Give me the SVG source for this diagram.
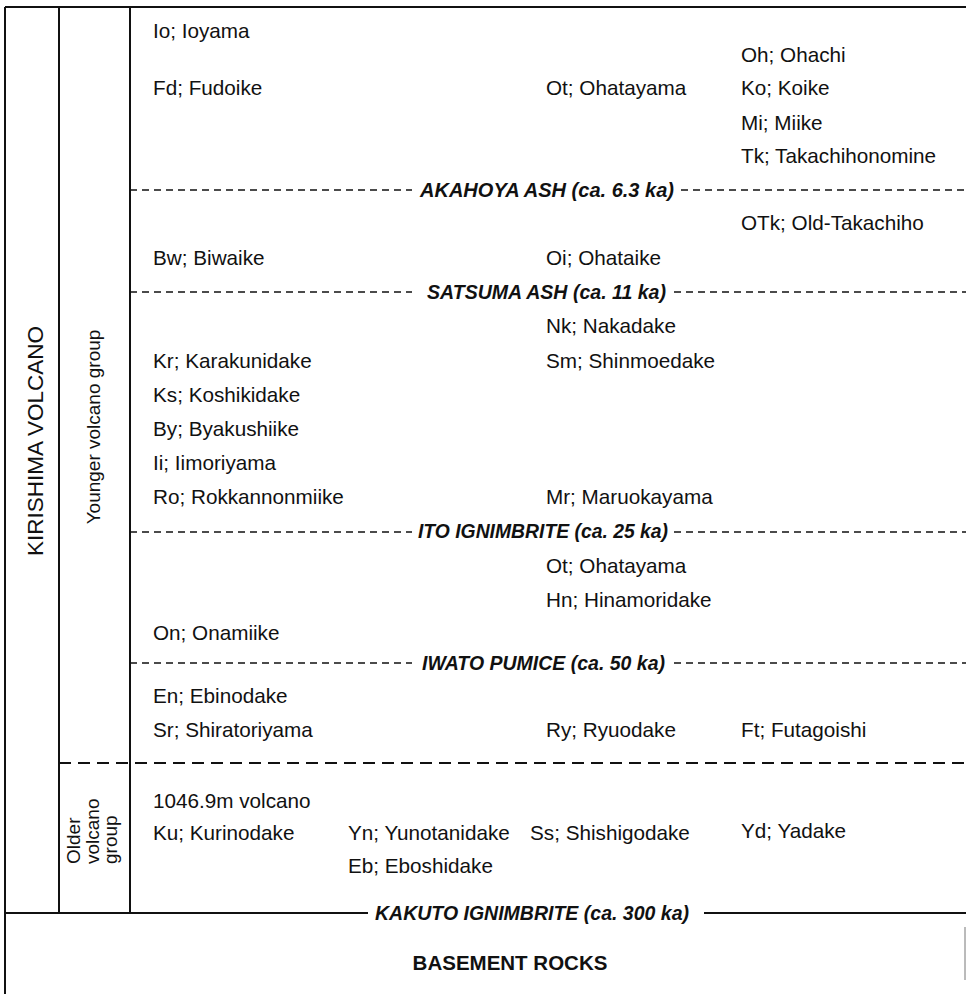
<svg xmlns="http://www.w3.org/2000/svg" width="966" height="994" viewBox="0 0 966 994">
<style>
  .t { font-family: "Liberation Sans", Arial, sans-serif; font-size: 20.7px; fill: #111; }
  .h { font-family: "Liberation Sans", Arial, sans-serif; font-size: 20px; font-weight: bold; font-style: italic; fill: #111; }
  .b { font-family: "Liberation Sans", Arial, sans-serif; font-size: 20.5px; font-weight: bold; fill: #111; }
  .v { font-family: "Liberation Sans", Arial, sans-serif; fill: #111; }
  .solid { stroke: #111; stroke-width: 2; fill: none; }
  .dash { stroke: #111; stroke-width: 1.5; stroke-dasharray: 7 5; fill: none; }
  .dash2 { stroke: #111; stroke-width: 2; stroke-dasharray: 12 7; fill: none; }
</style>
<rect width="966" height="994" fill="#fff"/>
<g id="connectors">
  <line class="solid" x1="5" y1="7" x2="966" y2="7"/>
  <line class="solid" x1="5" y1="7" x2="5" y2="994"/>
  <line class="solid" x1="59" y1="7" x2="59" y2="913"/>
  <line class="solid" x1="130" y1="7" x2="130" y2="913"/>
  <line stroke="#777" stroke-width="1" x1="965" y1="927" x2="965" y2="980"/>
  <line class="dash" x1="130" y1="190" x2="412" y2="190"/>
  <line class="dash" x1="681" y1="190" x2="966" y2="190"/>
  <line class="dash" x1="130" y1="292" x2="412" y2="292"/>
  <line class="dash" x1="674" y1="292" x2="966" y2="292"/>
  <line class="dash" x1="130" y1="532" x2="412" y2="532"/>
  <line class="dash" x1="674" y1="532" x2="966" y2="532"/>
  <line class="dash" x1="130" y1="663" x2="412" y2="663"/>
  <line class="dash" x1="674" y1="663" x2="966" y2="663"/>
  <line class="dash2" x1="59" y1="763" x2="966" y2="763"/>
  <line class="solid" x1="5" y1="913" x2="368" y2="913"/>
  <line class="solid" x1="704" y1="913" x2="966" y2="913"/>
</g>
<g id="column-labels">
  <text class="v" font-size="22.5" transform="translate(43,441) rotate(-90)" text-anchor="middle">KIRISHIMA VOLCANO</text>
  <text class="v" font-size="19" transform="translate(100,427) rotate(-90)" text-anchor="middle">Younger volcano group</text>
  <text class="v" font-size="19" transform="translate(80,864) rotate(-90)">Older</text>
  <text class="v" font-size="19" transform="translate(99,864) rotate(-90)">volcano</text>
  <text class="v" font-size="19" transform="translate(117,864) rotate(-90)">group</text>
</g>
<g id="horizons">
  <text class="h" x="420" y="197" textLength="254" lengthAdjust="spacingAndGlyphs">AKAHOYA ASH (ca. 6.3 ka)</text>
  <text class="h" x="427" y="299" textLength="239" lengthAdjust="spacingAndGlyphs">SATSUMA ASH (ca. 11 ka)</text>
  <text class="h" x="418" y="538" textLength="250" lengthAdjust="spacingAndGlyphs">ITO IGNIMBRITE (ca. 25 ka)</text>
  <text class="h" x="422" y="670" textLength="243" lengthAdjust="spacingAndGlyphs">IWATO PUMICE (ca. 50 ka)</text>
  <text class="h" x="375" y="920" textLength="314" lengthAdjust="spacingAndGlyphs">KAKUTO IGNIMBRITE (ca. 300 ka)</text>
  <text class="b" x="510" y="970" text-anchor="middle">BASEMENT ROCKS</text>
</g>
<g id="post-akahoya">
  <text class="t" x="153" y="38">Io; Ioyama</text>
  <text class="t" x="153" y="95">Fd; Fudoike</text>
  <text class="t" x="546" y="95">Ot; Ohatayama</text>
  <text class="t" x="741" y="62">Oh; Ohachi</text>
  <text class="t" x="741" y="95">Ko; Koike</text>
  <text class="t" x="741" y="130">Mi; Miike</text>
  <text class="t" x="741" y="163">Tk; Takachihonomine</text>
</g>
<g id="akahoya-satsuma">
  <text class="t" x="741" y="230">OTk; Old-Takachiho</text>
  <text class="t" x="153" y="265">Bw; Biwaike</text>
  <text class="t" x="546" y="265">Oi; Ohataike</text>
</g>
<g id="satsuma-ito">
  <text class="t" x="546" y="333">Nk; Nakadake</text>
  <text class="t" x="546" y="368">Sm; Shinmoedake</text>
  <text class="t" x="153" y="368">Kr; Karakunidake</text>
  <text class="t" x="153" y="402">Ks; Koshikidake</text>
  <text class="t" x="153" y="436">By; Byakushiike</text>
  <text class="t" x="153" y="470">Ii; Iimoriyama</text>
  <text class="t" x="153" y="504">Ro; Rokkannonmiike</text>
  <text class="t" x="546" y="504">Mr; Maruokayama</text>
</g>
<g id="ito-iwato">
  <text class="t" x="546" y="573">Ot; Ohatayama</text>
  <text class="t" x="546" y="607">Hn; Hinamoridake</text>
  <text class="t" x="153" y="640">On; Onamiike</text>
</g>
<g id="pre-iwato">
  <text class="t" x="153" y="703">En; Ebinodake</text>
  <text class="t" x="153" y="737">Sr; Shiratoriyama</text>
  <text class="t" x="546" y="737">Ry; Ryuodake</text>
  <text class="t" x="741" y="737">Ft; Futagoishi</text>
</g>
<g id="older-group">
  <text class="t" x="153" y="808">1046.9m volcano</text>
  <text class="t" x="153" y="840">Ku; Kurinodake</text>
  <text class="t" x="348" y="840">Yn; Yunotanidake</text>
  <text class="t" x="348" y="873">Eb; Eboshidake</text>
  <text class="t" x="530" y="840">Ss; Shishigodake</text>
  <text class="t" x="741" y="838">Yd; Yadake</text>
</g>
</svg>
